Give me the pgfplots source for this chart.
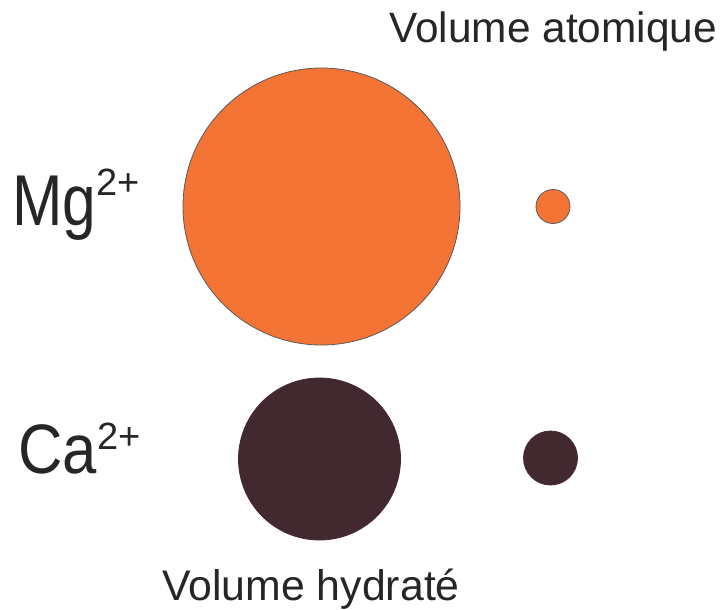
\documentclass[border=0pt]{standalone}
\usepackage{pgfplots}
\pgfplotsset{compat=1.18}
\usepackage{fontspec}
\setmainfont{Liberation Sans}
\definecolor{mgorange}{HTML}{F47436}
\definecolor{caplum}{HTML}{41292F}
\definecolor{txt}{HTML}{262626}
\begin{document}
\begin{tikzpicture}
\begin{axis}[
  width=364pt, height=305pt, scale only axis,
  xmin=0, xmax=728, ymin=0, ymax=610, y dir=reverse,
  axis lines=none, ticks=none, clip=false,
]
% Mg2+ : hydrated and atomic volume (radius in px, 1px = 0.5pt)
\addplot[only marks, mark=*, mark size=69.25pt, mark options={fill=mgorange, draw=gray!70!black, line width=0.4pt}] coordinates {(321.5,206.5)};
\addplot[only marks, mark=*, mark size=8.5pt, mark options={fill=mgorange, draw=gray!70!black, line width=0.4pt}] coordinates {(553,206.5)};
% Ca2+
\addplot[only marks, mark=*, mark size=40.5pt, mark options={fill=caplum, draw=caplum}] coordinates {(319.5,459)};
\addplot[only marks, mark=*, mark size=13.5pt, mark options={fill=caplum, draw=caplum}] coordinates {(550.5,458)};
% labels
\node[anchor=base west, inner sep=0pt, text=txt, font=\fontsize{21.2}{24}\selectfont] at (axis cs:389,43) {Volume atomique};
\node[anchor=base west, inner sep=0pt, text=txt, font=\fontsize{21.4}{24}\selectfont] at (axis cs:162,600) {Volume hydraté};
\node[anchor=base west, inner sep=0pt, text=txt, font=\fontsize{36}{40}\selectfont] at (axis cs:12,225) {\scalebox{0.84}[1]{Mg}\raisebox{15pt}{\fontsize{19}{20}\selectfont 2+}};
\node[anchor=base west, inner sep=0pt, text=txt, font=\fontsize{35}{40}\selectfont] at (axis cs:18,473) {\scalebox{0.88}[1]{Ca}\raisebox{12pt}{\fontsize{19}{20}\selectfont 2+}};
\end{axis}
\pgfresetboundingbox
\path[use as bounding box] (current axis.south west) rectangle (current axis.north east);
\end{tikzpicture}
\end{document}
